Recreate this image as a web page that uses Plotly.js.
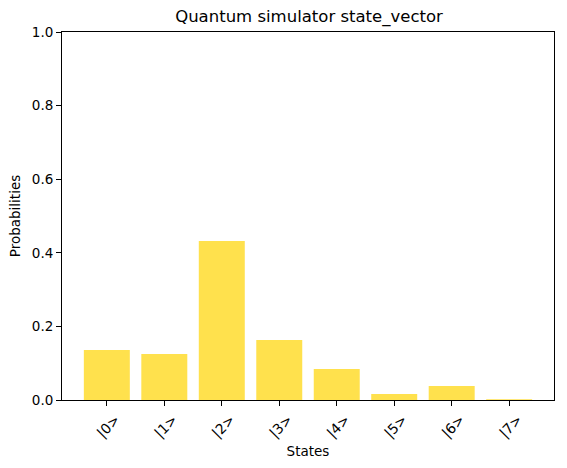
<!DOCTYPE html>
<html>
<head>
<meta charset="utf-8">
<script src="https://cdn.plot.ly/plotly-3.0.1.min.js"></script>
<style>
  html, body { margin: 0; padding: 0; background: #fff; }
  #graph { width: 567px; height: 468px; }
</style>
</head>
<body>
<div id="graph"></div>
<script>
// basis states and their measured probabilities
const states = ["|0&gt;", "|1&gt;", "|2&gt;", "|3&gt;", "|4&gt;", "|5&gt;", "|6&gt;", "|7&gt;"];
const probabilities = [0.136, 0.125, 0.432, 0.163, 0.084, 0.016, 0.038, 0.002];
const yTicks = [0, 0.2, 0.4, 0.6, 0.8, 1.0];

const font = "DejaVu Sans, sans-serif";

const xPos = states.map((s, i) => i);

Plotly.newPlot("graph", [
  {
    type: "bar",
    x: xPos,
    y: probabilities,
    width: 0.8,
    marker: { color: "#ffe14d", line: { width: 0 } },
    hoverinfo: "none",
  },
], {
  width: 567,
  height: 468,
  margin: { l: 62, r: 13, t: 32, b: 68 },
  paper_bgcolor: "#fff",
  plot_bgcolor: "#fff",
  font: { family: font, size: 14, color: "#000" },
  showlegend: false,
  title: {
    text: "Quantum simulator state_vector",
    font: { family: font, size: 16.5, color: "#000" },
    x: 0.545,
    xanchor: "center",
    y: 0.965,
    yanchor: "middle",
  },
  xaxis: {
    range: [-0.78, 7.78],
    tickvals: xPos,
    ticktext: states,
    tickangle: -45,
    ticklabelshift: 9,
    ticks: "outside",
    ticklen: 5,
    tickcolor: "#000",
    showgrid: false,
    zeroline: false,
    showline: true,
    linecolor: "#000",
    linewidth: 1,
    mirror: true,
    tickfont: { family: font, size: 14 },
    title: { text: "States", font: { family: font, size: 13.5 }, standoff: 6 },
  },
  yaxis: {
    range: [0, 1],
    tickvals: yTicks,
    tickformat: ".1f",
    ticks: "outside",
    ticklen: 5,
    tickcolor: "#000",
    showgrid: false,
    zeroline: false,
    showline: true,
    linecolor: "#000",
    linewidth: 1,
    mirror: true,
    tickfont: { family: font, size: 13.5 },
    title: { text: "Probabilities", font: { family: font, size: 13.5 }, standoff: 8 },
  },
}, { staticPlot: true });
</script>
</body>
</html>
